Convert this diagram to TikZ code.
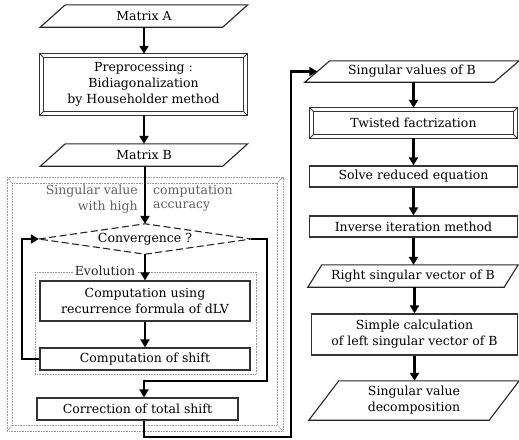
\documentclass[tikz,border=0pt]{standalone}
\usepackage{fontspec}
\setmainfont{DejaVu Serif}
\usetikzlibrary{arrows.meta,calc}
\newcommand\paradraw[2]{%
  \draw[boxline] ([xshift=#2/2]#1.north west) -- ([xshift=#2/2]#1.north east)
    -- ([xshift=-#2/2]#1.south east) -- ([xshift=-#2/2]#1.south west) -- cycle;}
\newcommand\beveldraw[1]{%
  \draw[bevline] (#1.north west) rectangle (#1.south east);
  \draw[bevline] ([shift={(4pt,-4pt)}]#1.north west) rectangle ([shift={(-4pt,4pt)}]#1.south east);
  \draw[bevline] (#1.north west) -- ++(4pt,-4pt);
  \draw[bevline] (#1.north east) -- ++(-4pt,-4pt);
  \draw[bevline] (#1.south west) -- ++(4pt,4pt);
  \draw[bevline] (#1.south east) -- ++(-4pt,4pt);}
\begin{document}
\begin{tikzpicture}[x=1pt,y=-1pt,
  every node/.style={font=\fontsize{12.5}{16}\selectfont, inner sep=0pt, align=center},
  plain/.style={rectangle, draw=none},
  box/.style={rectangle, draw=black!80, line width=1.3pt},
  boxline/.style={draw=black!85, line width=1.1pt, line join=miter},
  bevline/.style={draw=black!80, line width=0.9pt},
  arr/.style={line width=2.6pt, -{Triangle[length=8pt,width=9pt]}},
  dotframe/.style={draw=black!40, line width=0.8pt, dash pattern=on 0.8pt off 0.8pt},
  diamondline/.style={draw=black!85, line width=1.1pt, dash pattern=on 7pt off 3.5pt},
  graytext/.style={text=black!62}]
\useasboundingbox (0,0) rectangle (519,439);

% outer dotted bevel frame
\draw[dotframe] (7,177) rectangle (283,431);
\draw[dotframe] (12,183) rectangle (277,425);
\draw[dotframe] (7,177) -- (12,183);
\draw[dotframe] (283,177) -- (277,183);
\draw[dotframe] (7,431) -- (12,425);
\draw[dotframe] (283,431) -- (277,425);
% evolution frame
\draw[dotframe] (35,272) rectangle (256,374);
\node[fill=white, inner sep=2pt, text=black!85] (evo) at (105,271) {Evolution};

% labels of the outer frame
\node[graytext, anchor=east] (t1) at (138,191) {Singular value};
\node[graytext, anchor=west] (t2) at (153,191) {computation};
\node[graytext, anchor=east] (t3) at (138,207) {with high};
\node[graytext, anchor=west] (t4) at (153,207) {accuracy};

% left column
\node[plain, minimum width=182pt, minimum height=22pt] (ma) at (144,16) {Matrix A};
\paradraw{ma}{25}
\node[plain, minimum width=207pt, minimum height=61pt] (pre) at (143.5,84.5)
  {Preprocessing :\\Bidiagonalization\\by Householder method};
\beveldraw{pre}
\node[plain, minimum width=182pt, minimum height=22pt] (mb) at (144,155) {Matrix B};
\paradraw{mb}{25}
\node[plain, minimum width=212pt, minimum height=30pt] (cv) at (145,239) {Convergence ?};
\draw[diamondline] (cv.west) -- (cv.north) -- (cv.east) -- (cv.south) -- cycle;
\node[box, minimum width=210pt, minimum height=40pt] (cu) at (145,301)
  {Computation using\\recurrence formula of dLV};
\node[box, minimum width=210pt, minimum height=22pt] (cs) at (145,359) {Computation of shift};
\node[box, minimum width=201pt, minimum height=22pt] (ct) at (137.5,409) {Correction of total shift};

% right column
\node[plain, minimum width=189pt, minimum height=21pt] (sv) at (412,71.5) {Singular values of B};
\paradraw{sv}{25}
\node[plain, minimum width=207pt, minimum height=30pt] (tw) at (413.5,123) {Twisted factrization};
\beveldraw{tw}
\node[box, minimum width=208pt, minimum height=21pt] (sr) at (413.5,176.5) {Solve reduced equation};
\node[box, minimum width=208pt, minimum height=21pt] (ii) at (413.5,226.5) {Inverse iteration method};
\node[plain, minimum width=196pt, minimum height=22pt] (rv) at (413,276) {Right singular vector of B};
\paradraw{rv}{14}
\node[box, minimum width=206pt, minimum height=41pt] (sc) at (414.5,334.5)
  {Simple calculation\\of left singular vector of B};
\node[plain, minimum width=180pt, minimum height=39pt] (sd) at (414,400.5)
  {Singular value\\decomposition};
\paradraw{sd}{30}

% coordinates for connectors
\coordinate (r1) at (267,381);
\coordinate (r2) at (144,381);
\coordinate (c2) at (291,437);
\coordinate (l1) at (22,359);

% left column arrows
\draw[arr] (ma.south) -- (pre.north -| ma.south);
\draw[arr] (pre.south -| ma.south) -- (mb.north);
\draw[arr] (mb.south -| cv.north) -- (cv.north);
\draw[arr] (cv.south) -- (cu.north);
\draw[arr] (cu.south) -- (cs.north);
\draw[arr] (cs.west) -- (l1) |- (cv.west);
\draw[arr] (cv.east) -| (r1) -- (r2) -- (r2 |- ct.north);
\draw[arr] (r2 |- ct.south) |- (c2) |- (sv.west);

% right column arrows
\draw[arr] (sv.south -| tw.north) -- (tw.north);
\draw[arr] (tw.south) -- (sr.north);
\draw[arr] (sr.south) -- (ii.north);
\draw[arr] (ii.south) -- (rv.north -| ii.south);
\draw[arr] (rv.south -| sc.north) -- (sc.north);
\draw[arr] (sc.south) -- (sd.north -| sc.south);
\end{tikzpicture}
\end{document}
